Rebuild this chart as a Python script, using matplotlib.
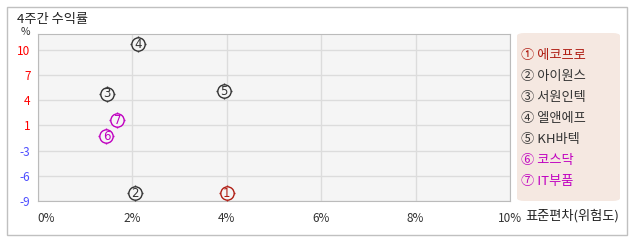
import numpy as np
import matplotlib
matplotlib.use('Agg')
import matplotlib.pyplot as plt
from matplotlib.patches import Rectangle, FancyBboxPatch

plt.rcParams['font.family'] = ['Noto Sans CJK KR', 'DejaVu Sans']

# data
names = ['에코프로', '아이원스', '서원인텍', '엘앤에프', 'KH바텍', '코스닥', 'IT부품']
marks = ['①', '②', '③', '④', '⑤', '⑥', '⑦']
risk = [4.0, 2.07, 1.47, 2.13, 3.95, 1.46, 1.69]      # 표준편차 (%)
ret = [-8.0, -8.0, 4.5, 10.7, 4.8, -0.86, 1.15]       # 4주간 수익률 (%)
colors = ['#b01e14', '#333333', '#333333', '#333333', '#333333', '#c000c0', '#c000c0']
x_ticks = [0, 2, 4, 6, 8, 10]

W, H = 638, 242
fig = plt.figure(figsize=(W / 100, H / 100), dpi=100)

def fx(px):
    return px / W

def fy(py):
    return 1 - py / H

# outer frame
fig.patches.append(Rectangle((fx(7), fy(235)), fx(620), (235 - 7) / H,
                             transform=fig.transFigure, fill=False,
                             edgecolor='#c0c0c0', lw=1))

ax = fig.add_axes([fx(37.5), fy(201), fx(510 - 37.5), (201 - 34) / H])
ax.set_facecolor('#f5f5f5')
ax.set_xlim(0, 10)
ax.set_ylim(-9, 12)

yt = np.linspace(-9, 10, 7)
ax.set_yticks(yt)
ylabels = [str(int(np.floor(v + 0.5))) for v in yt]
ax.set_yticklabels(ylabels, fontsize=8.5)
for lab, v in zip(ax.get_yticklabels(), yt):
    lab.set_color('#ff0000' if v > 0 else '#4d4dff')

ax.set_xticks(x_ticks)
ax.set_xticklabels(['%d%%' % t for t in x_ticks], fontsize=8.5, color='#333333')
ax.get_xticklabels()[0].set_horizontalalignment('left')
ax.tick_params(length=0)
ax.tick_params(axis='y', pad=5)
ax.tick_params(axis='x', pad=8)
ax.grid(True, color='#dcdcdc', lw=1)
ax.set_axisbelow(True)
for s in ax.spines.values():
    s.set_color('#bbbbbb')

for x, y, c, m in zip(risk, ret, colors, marks):
    ax.plot(x, y, marker='+', ms=12, mew=1, color=c, zorder=3)
    ax.plot(x, y, marker='o', ms=9.6, mew=1, mfc='#f5f5f5', mec=c, zorder=4)
    ax.text(x, y, str(marks.index(m) + 1), color=c, fontsize=8.5,
            ha='center', va='center', zorder=5, family='DejaVu Sans')

# titles
fig.text(fx(17), fy(19), '4주간 수익률', fontsize=9.5, color='#222222', va='center')
fig.text(fx(25), fy(32), '%', fontsize=7.5, color='#333333', ha='center', va='center')
fig.text(fx(525), fy(216), '표준편차(위험도)', fontsize=9.5, color='#222222', va='center')

# legend box
fig.patches.append(FancyBboxPatch((fx(517), fy(201)), fx(103), (201 - 33) / H,
                                  boxstyle='round,pad=0,rounding_size=0.012',
                                  transform=fig.transFigure,
                                  facecolor='#f5e8e1', edgecolor='none'))
for i, (n, m, c) in enumerate(zip(names, marks, colors)):
    fig.text(fx(521), fy(55 + i * 21.1), m + ' ' + n, fontsize=9.5, color=c, va='center')

fig.savefig('out.png', dpi=100)
